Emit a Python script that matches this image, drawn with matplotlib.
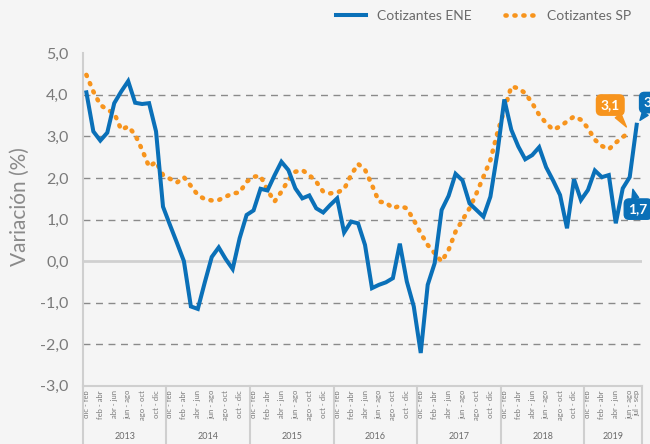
import numpy as np
import matplotlib
matplotlib.use("Agg")
from matplotlib import pyplot as plt
from matplotlib import transforms
from matplotlib.lines import Line2D

plt.rcParams['font.family'] = ['Lato', 'DejaVu Sans']

# rolling quarters, dic-feb 2013 .. jul-sep 2019
meses = ["dic - feb", "ene - mar", "feb - abr", "mar - may", "abr - jun", "may - jul",
         "jun - ago", "jul - sep", "ago - oct", "sep - nov", "oct - dic", "nov - ene"]
years = ["2013", "2014", "2015", "2016", "2017", "2018", "2019"]

ene = [4.06, 3.12, 2.90, 3.09, 3.80, 4.08, 4.33, 3.81, 3.78, 3.80, 3.12, 1.31,
       0.87, 0.44, 0.00, -1.09, -1.15, -0.51, 0.10, 0.33, 0.05, -0.19, 0.55, 1.11,
       1.22, 1.74, 1.70, 2.06, 2.39, 2.19, 1.75, 1.51, 1.58, 1.27, 1.17, 1.35,
       1.51, 0.69, 0.95, 0.91, 0.39, -0.65, -0.57, -0.51, -0.41, 0.42, -0.49, -1.09,
       -2.21, -0.57, -0.05, 1.23, 1.57, 2.10, 1.94, 1.39, 1.23, 1.07, 1.55, 2.60,
       3.89, 3.16, 2.76, 2.45, 2.55, 2.74, 2.26, 1.94, 1.59, 0.79, 1.97, 1.47,
       1.71, 2.18, 2.02, 2.07, 0.91, 1.75, 2.02, 3.28]
sp = [4.48, 4.08, 3.76, 3.64, 3.56, 3.16, 3.24, 3.04, 2.68, 2.27, 2.39, 2.07,
      1.98, 1.89, 2.02, 1.81, 1.59, 1.49, 1.46, 1.47, 1.55, 1.63, 1.65, 1.91,
      2.03, 2.05, 1.71, 1.43, 1.67, 1.95, 2.15, 2.19, 2.07, 1.91, 1.67, 1.63,
      1.65, 1.73, 2.07, 2.34, 2.20, 1.83, 1.43, 1.41, 1.27, 1.33, 1.27, 0.99,
      0.67, 0.39, 0.19, -0.01, 0.27, 0.71, 0.99, 1.27, 1.63, 2.03, 2.43, 3.08,
      3.64, 4.20, 4.16, 4.04, 3.80, 3.52, 3.32, 3.16, 3.24, 3.36, 3.48, 3.40,
      3.20, 2.92, 2.77, 2.69, 2.85, 2.98, 3.12]

yticks = [5, 4, 3, 2, 1, 0, -1, -2, -3]

blue = '#0a70b8'
orange = '#f7941d'
bg = '#f5f5f5'
grey_txt = '#7a7a7a'

n = len(ene)
x = np.arange(n)
tick_idx = [i for i in range(n) if i % 2 == 0] + [n - 1]
tick_lab = [meses[i % 12] for i in tick_idx]

fig = plt.figure(figsize=(6.5, 4.44), dpi=100, facecolor=bg)
ax = fig.add_axes([0.127, 0.131, 0.86, 0.749], facecolor=bg)

for v in yticks:
    if v == 0:
        ax.axhline(v, color='#d0d0d0', lw=2, zorder=1)
    elif v not in (5, -3):
        ax.axhline(v, color='#8a8a8a', lw=1, ls=(0, (5, 4)), zorder=1)

ax.plot(x[:len(sp)], sp, color=orange, lw=3.3, ls=(0, (0.25, 1.7)),
        dash_capstyle='round', zorder=3)
ax.plot(x, ene, color=blue, lw=2.9, solid_joinstyle='miter', zorder=4)

ax.set_xlim(-0.55, 79.7)
ax.set_ylim(-3, 5)
ax.set_yticks(yticks)
ax.set_yticklabels([f"{v:.1f}".replace('.', ',') for v in yticks],
                   fontsize=11.5, color=grey_txt)
ax.set_xticks(tick_idx)
ax.set_xticklabels(tick_lab, rotation=90, fontsize=5.5, color=grey_txt, va='top')
ax.tick_params(length=0)
ax.tick_params(axis='y', pad=10)
ax.tick_params(axis='x', pad=3)
ax.set_ylabel("Variación (%)", fontsize=15, color='#8a8a8a')
ax.yaxis.set_label_coords(-0.095, 0.54)

for s in ['top', 'right']:
    ax.spines[s].set_visible(False)
for s in ['left', 'bottom']:
    ax.spines[s].set_color('#cfcfcf')
    ax.spines[s].set_linewidth(1.5)

# year boxes under the axis
trans = transforms.blended_transform_factory(ax.transData, ax.transAxes)
for k in range(len(years) + 1):
    xs = min(-0.5 + 12 * k, 79.7)
    ax.plot([xs, xs], [0, -0.2], transform=trans, color='#cfcfcf', lw=1.5,
            clip_on=False)
for k, yr in enumerate(years):
    end = min(11.5 + 12 * k, 79.7)
    ax.text((-0.5 + 12 * k + end) / 2, -0.153, yr, transform=trans,
            ha='center', va='center', fontsize=6.5, color='#6a6a6a')


def label(i, val, txt, color, dx, dy, shrink=4):
    ax.annotate(txt, xy=(i, val), xytext=(dx, dy), textcoords='offset points',
                ha='center', va='center', fontsize=10, fontweight='bold',
                color='white', annotation_clip=False,
                bbox=dict(boxstyle='round,pad=0.3,rounding_size=0.35', fc=color, ec=color),
                arrowprops=dict(arrowstyle='wedge,tail_width=0.5', fc=color, ec=color,
                                shrinkA=0, shrinkB=shrink))


label(len(sp) - 1, sp[-1], "3,1", orange, -14, 19)
label(n - 1, ene[-1], "3,3", blue, 12, 16)
label(n - 2, ene[-2], "1,7", blue, 6, -23, shrink=9)

handles = [Line2D([], [], color=blue, lw=2.9),
           Line2D([], [], color=orange, lw=3.3, ls=(0, (0.25, 1.7)), dash_capstyle='round')]
fig.legend(handles, ["Cotizantes ENE", "Cotizantes SP"], loc='upper right',
           bbox_to_anchor=(0.99, 1.005), ncol=2, frameon=False, fontsize=10,
           labelcolor='#6a6a6a', handlelength=2.2, columnspacing=2.4)

fig.savefig("out.png", dpi=100, facecolor=bg)
